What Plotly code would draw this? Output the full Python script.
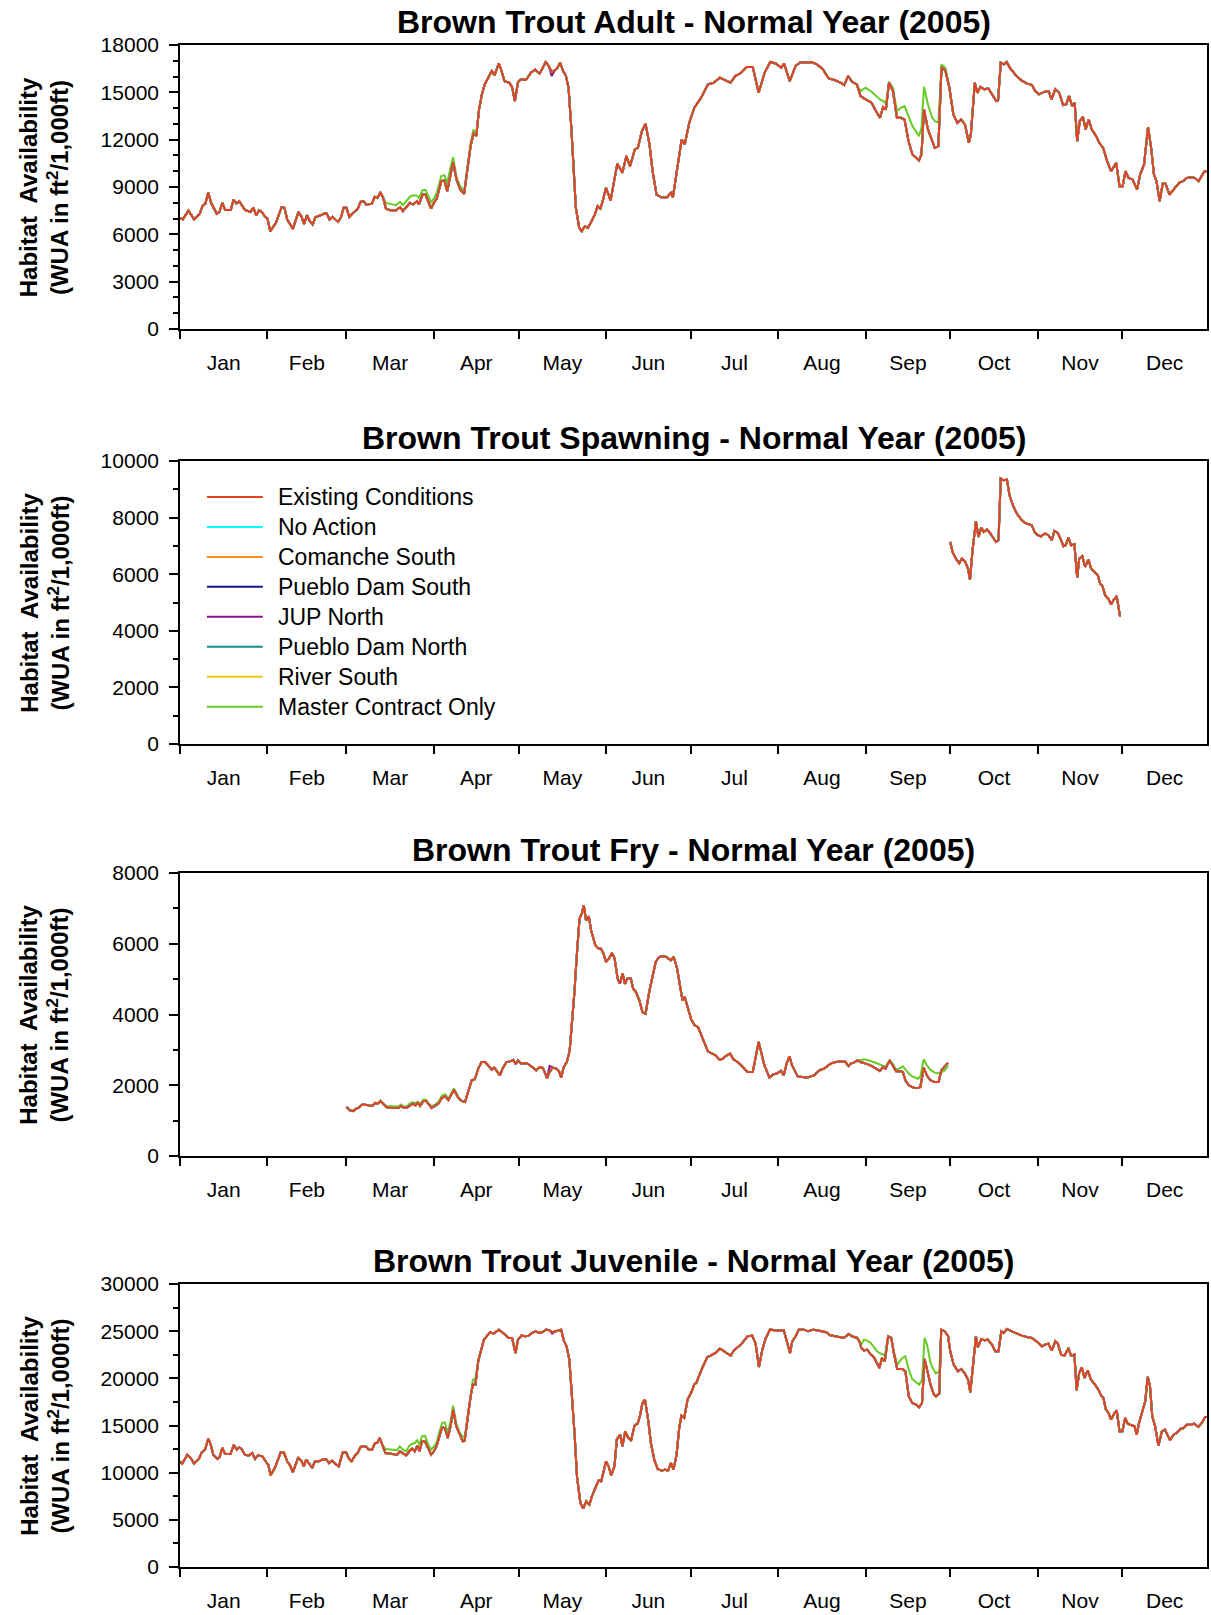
import pandas as pd
import plotly.graph_objects as go

YEAR_START = pd.Timestamp("2005-01-01")

SERIES = ["Existing Conditions", "No Action", "Comanche South", "Pueblo Dam South",
          "JUP North", "Pueblo Dam North", "River South", "Master Contract Only"]
COLORS = ["#E8411E", "#00FFFF", "#FF8C1E", "#14148C", "#8C148C", "#148C8C", "#E6C814", "#66CC22"]

TITLES = ["Brown Trout Adult - Normal Year (2005)",
          "Brown Trout Spawning - Normal Year (2005)",
          "Brown Trout Fry - Normal Year (2005)",
          "Brown Trout Juvenile - Normal Year (2005)"]
Y_MAX = [18000, 10000, 8000, 30000]
Y_DTICK = [3000, 2000, 2000, 5000]
Y_MINOR = [1000, 1000, 1000, 2500]

# ---------------- Adult (day of year offset, WUA) : Existing Conditions ----------------
adult_day = [0, 1, 3, 5, 7, 8, 9, 10, 11, 13, 14, 15, 16, 18, 19, 20, 21, 22, 23, 25, 26, 27, 28, 29, 30,
             31, 32, 34, 36, 37, 38, 40, 42, 43, 44, 45, 46, 47, 48, 49, 51, 52, 53, 54, 56, 57, 58,
             59, 60, 62, 63, 64, 65, 66, 68, 69, 70, 71, 72, 73, 74.5, 76.6, 78, 79, 81.5, 82.6, 84, 84.7,
             86, 87, 89, 90, 91, 92.6, 93.7, 94.7, 96, 96.8, 98, 99.3, 100.7, 102, 103, 104, 105, 106, 107,
             108, 109, 110.5, 111.5, 113, 113.8, 115, 116.7, 117.7, 118.7, 119.8, 120.8, 122.6, 124.4,
             125.8, 127.5, 129.6, 130.7, 131.7, 132.8, 133.8, 134.7, 135.8, 136.8, 137.7, 138.7, 139.5,
             140.3, 141.5, 142.4, 143.5, 144.5, 145.6, 147, 148, 149, 149.8, 151, 152.6, 154, 155,
             156.8, 158.2, 159.5, 161.2, 162.3, 163.7, 165, 166.4, 167.5, 168.9, 170.6, 172.6, 174, 174.7,
             176.1, 177.8, 178.9, 180.5, 182.3, 184.7, 187.1, 189.2, 191.3, 193.4, 195.1, 196.8, 198.9,
             200.9, 203, 205.1, 207.2, 209.2, 211.3, 213.1, 214.1, 216.1, 218.2, 219.6, 221.6, 223.7,
             225.8, 227.9, 229.9, 232, 234.1, 235.4, 236.8, 238.2, 239.9, 241.2, 243, 245.1, 246.8, 248.1,
             249.2, 250.2, 251.3, 252.7, 254.1, 255.5, 256.8, 258.2, 259.6, 261, 261.9, 262.8, 263.7,
             265.1, 266.5, 267.5, 268.8, 269.9, 271.3, 272.7, 274.1, 275.5, 276.8, 278.2, 279.6, 280.3,
             281.7, 282.6, 283.7, 285.1, 286.5, 287.9, 289.3, 289.95, 290.9, 292, 293, 294.1, 296.2,
             298.2, 300.3, 302, 303.1, 304.4, 306.5, 307.9, 308.9, 310.2, 311.6, 313, 314.1, 315.1,
             316.2, 317.1, 318, 318.9, 320, 321, 322.1, 323.1, 324.5, 325.8, 327.2, 328.6, 330, 331.8,
             333, 334.1, 335.1, 336.2, 337.6, 339.2, 340.3, 341.7, 343.1, 344.2, 345.2, 346.1, 347.2,
             348.3, 349.3, 350.7, 352.1, 354.1, 355.5, 356.9, 358.3, 359.6, 361, 363.1, 364]
adult_val = [7050, 6950, 7500, 6950, 7300, 7800, 7950, 8650, 8000, 7300, 7420, 8000, 7550, 7550, 8200, 7950,
             8100, 7850, 7550, 7420, 7700, 7200, 7530, 7420, 7150,
             7000, 6200, 6730, 7720, 7680, 6940, 6350, 7420, 7150, 6660, 7210, 6830, 6620, 7090, 7150,
             7300, 7320, 6940, 7110, 6790, 7040, 7680,
             7680, 7110, 7470, 7610, 8060, 8100, 7890, 7930, 8380, 8310, 8670, 8310, 7630, 7530, 7530,
             7720, 7470, 8000, 7890, 8100, 7890,
             8520, 8520, 7630, 8000, 8270, 9370, 9410, 8730, 10000, 10575, 9480, 8840, 8570, 10430, 11590,
             12370, 12230, 13920, 14870,
             15500, 15880, 16350, 16090, 16835, 16450, 15710, 15610, 15330, 14450, 15650, 15820, 15780,
             16240,
             16450, 16180, 16920, 16670, 16310, 16390, 16560, 16880, 16350, 16030, 15290, 12750, 9790,
             7680, 6410, 6200, 6510, 6410, 6730, 7250, 7780, 7630, 8100, 8950, 8140, 9370, 10480,
             9900, 10960, 10320, 11380, 11480, 12540, 13010, 11700, 10000, 8520, 8350, 8350, 8630, 8350,
             10000, 12010, 11700, 13070, 14020, 14660, 15500, 15610, 15930, 15760, 15610, 16030, 16240,
             16600, 16600, 14970, 16240, 16920, 16810, 16560, 16830, 15710, 16670, 16880, 16880, 16920,
             16770, 16450, 15880, 15780, 15610, 15460, 16030, 15670, 15500, 14760, 14550, 14340, 13770,
             13390,
             14060, 13920, 15610, 15080, 13390, 13390, 13280, 11910, 11060, 10850, 10680, 11060, 13920,
             12650, 11910, 11480, 11590, 16600, 16350, 15290, 13600, 13070, 13280, 12970, 11800, 12330,
             15610, 14970, 15350, 15190, 15250, 14870, 14450, 14490, 16880, 16770, 16920, 16560, 16090,
             15760, 15550, 15460, 15080, 14870, 15040, 15080, 14550, 15190, 14970, 14190, 14230, 14760,
             14130, 14340, 11910, 13180, 13450, 12650, 13280, 12650, 12290, 11800, 11480, 10640, 10000,
             10530,
             9050, 9050, 10000, 9580, 9480, 8840, 9790, 10430, 12800, 11480, 9790, 9370, 8100,
             9200, 9200, 8520, 8840, 9260, 9370, 9580, 9620, 9580, 9370, 10000, 10000]

# Master Contract Only where it separates from Existing Conditions (adult)
adult_mco_a_day = [73, 74.5, 76.6, 78, 79, 81.5, 82.6, 84, 84.7, 86, 87, 89, 90, 91, 92.6, 93.7, 94.7, 96,
                   96.8, 98, 99.3, 100.7, 102, 103, 104]
adult_mco_a_val = [7990, 7930, 7850, 8060, 7850, 8380, 8480, 8440, 8310, 8800, 8820, 8040, 8270, 8630, 9690,
                   9750, 9260, 10320, 10890, 9600, 9050, 8730, 10600, 11800, 12650]
adult_mco_b_day = [241.2, 243, 245.1, 246.8, 248.1, 249.2, 250.2, 251.3, 252.7, 254.1, 255.5, 256.8, 258.2,
                   259.6, 261, 261.9, 262.8, 263.7, 265.1, 266.5, 267.5, 268.8, 269.9, 271.3]
adult_mco_b_val = [15080, 15290, 15040, 14760, 14550, 14450, 14300, 15670, 15290, 13810, 14020, 14130, 13490,
                   12860, 12480, 12220, 12750, 15350, 14230, 13430, 13180, 13070, 16770, 16560]
adult_jup_day = [131.7]
adult_jup_val = [16030]

# ---------------- Spawning : Existing Conditions ----------------
spawn_day = [273, 273.8, 275, 276.2, 277.1, 278.3, 279.3, 280, 280.9, 282.1, 283, 284, 284.9, 286, 287.2,
             288.3, 289.2, 290.1, 290.9, 291.9, 293.1, 294, 295.2, 296.6, 298.1, 299.5, 300.7, 301.9,
             302.9, 304, 305.2, 306.6, 307.8, 309, 309.9, 311.1, 312.3, 313.1, 313.9, 314.9, 315.8, 317,
             318, 318.7, 319.8, 320.8, 322, 322.9, 324.1, 325.3, 326.1, 326.9, 327.9, 329, 330, 330.8,
             332, 333.2]
spawn_val = [7140, 6790, 6550, 6380, 6550, 6440, 6200, 5810, 6850, 7870, 7320, 7650, 7490, 7580, 7440,
             7260, 7140, 7200, 9380, 9320, 9340, 8790, 8440, 8140, 7940, 7810, 7760, 7730,
             7490, 7380, 7340, 7440, 7380, 7200, 7530, 7460, 7200, 6990, 7020, 7290, 7020, 7060,
             5880, 6550, 6640, 6260, 6520, 6200, 6080, 5960, 5670, 5590, 5260, 5140, 4930, 5080,
             5220, 4490]

# ---------------- Fry : Existing Conditions ----------------
fry_day = [59, 60.2, 61.4, 62.5, 63.4, 64.5, 65.7, 66.9, 68.1, 69.2, 70.1, 71, 71.9, 73.1, 74.5, 76.3,
           77.5, 78.3, 79.2, 80.4, 81.4, 82.5, 83.5, 84.2, 85.1, 86.3, 87.2, 88.2, 89.2, 90.4, 91.6, 92.8,
           94, 95.1, 97.1, 98.6, 99.8, 101, 102.2, 103.4, 104.5, 105.7, 106.9, 108.1, 109.2, 110.4,
           111.4, 112.2, 113.4, 114.3, 115.7, 117.1, 118.1, 119, 119.8, 121, 122.8, 124, 125.1, 126.3,
           127.5, 128.6, 130.1, 131, 132.2, 133.4, 134.3, 135.1, 136, 137.1, 138.1, 139, 139.8, 140.6,
           141.6, 142.4, 143.1, 143.9, 144.9, 145.7, 146.3, 147.2, 148.4, 149.2, 150.1, 151, 152, 153.1,
           154, 155.1, 155.9, 156.9, 157.7, 158.6, 159.8, 160.6, 161.6, 162.8, 163.9, 165, 166.3, 167.5,
           168.6, 169.8, 171, 172.4, 173.9, 175, 176.2, 177.1, 178.1, 178.9, 180.1, 181.2, 182.4, 183.6,
           184.8, 186, 187.1, 188.3, 189.8, 191.2, 192.4, 193.8, 195, 196.2, 197.7, 198.9, 200.1, 201.2,
           203, 203.9, 205.1, 206.1, 207.1, 208.1, 208.9, 210.1, 211.5, 213, 214, 215, 216, 216.9, 217.7,
           218.9, 220.6, 222.4, 223.6, 224.8, 225.9, 227.1, 228.3, 229.5, 230.6, 232.4, 234.2, 235.7,
           236.9, 237.7, 238.9, 240.1, 241.2, 242.4, 243.9, 245.4, 246.8, 248, 249.1, 250.1, 251.5,
           252.6, 253.8, 255, 256.2, 257.1, 258.3, 259.5, 260.6, 261.6, 262.4, 263.6, 264.7, 265.9,
           267.5, 268.9, 269.8, 271, 272.2]
fry_val = [1385, 1290, 1270, 1340, 1365, 1450, 1450, 1430, 1415, 1500, 1480, 1555, 1480, 1385, 1365, 1365,
           1357, 1415, 1365, 1365, 1415, 1480, 1430, 1510, 1415, 1555, 1555, 1450, 1357, 1415, 1480, 1640,
           1690, 1575, 1875, 1650, 1555, 1525, 1855, 2140, 2170, 2470, 2655, 2655, 2565, 2440,
           2495, 2420, 2280, 2470, 2655, 2675, 2720, 2590, 2705, 2610, 2630, 2565, 2495, 2420,
           2515, 2495, 2205, 2375, 2495, 2470, 2400, 2215, 2515, 2655, 2970, 3740, 4635, 5625,
           6710, 6850, 7085, 6660, 6775, 6380, 6210, 5955, 5860, 5860, 5720, 5485, 5580, 5740,
           5605, 5015, 4870, 5155, 4870, 5015, 5015, 4730, 4635, 4400, 4070, 4025, 4635, 5105,
           5485, 5625, 5655, 5625, 5530, 5625, 5295, 4870, 4400, 4495, 4165, 3855, 3695, 3645,
           3410, 3175, 2960, 2910, 2845, 2725, 2750, 2845, 2895, 2725, 2655, 2565, 2470, 2375,
           2375, 2750, 3225, 2895, 2565, 2375, 2215, 2300, 2330, 2405, 2280, 2610, 2820, 2565, 2420,
           2250, 2235, 2215, 2250, 2280, 2375, 2440, 2470, 2535, 2610, 2655, 2655, 2675,
           2545, 2610, 2640, 2705, 2655, 2630, 2590, 2535, 2470, 2405, 2515, 2470, 2705,
           2535, 2395, 2395, 2375, 2140, 2000, 1950, 1920, 1920, 1950, 2495, 2280, 2140,
           2090, 2090, 2420, 2535, 2630]

fry_mco_a_day = [73.1, 74.5, 76.3, 77.5, 78.3, 79.2, 80.4, 81.4, 82.5, 83.5, 84.2, 85.1, 86.3, 87.2, 88.2,
                 89.2, 90.4, 91.6, 92.8, 94, 95.1, 97.1, 98.6]
fry_mco_a_val = [1415, 1415, 1415, 1400, 1455, 1400, 1400, 1480, 1515, 1495, 1535, 1480, 1590, 1590, 1480,
                 1400, 1450, 1530, 1705, 1745, 1620, 1910, 1680]
fry_mco_b_day = [241.2, 242.4, 243.9, 245.4, 246.8, 248, 249.1, 250.1, 251.5, 252.6, 253.8, 255, 256.2,
                 257.1, 258.3, 259.5, 260.6, 261.6, 262.4, 263.6, 264.7, 265.9, 267.5, 268.9, 269.8,
                 271, 272.2]
fry_mco_b_val = [2705, 2735, 2705, 2675, 2630, 2590, 2560, 2520, 2705, 2610, 2440, 2470, 2535,
                 2440, 2330, 2250, 2215, 2185, 2250, 2735, 2565, 2440, 2355, 2330, 2355,
                 2420, 2545]
fry_jup_day = [131]
fry_jup_val = [2545]

# ---------------- Juvenile : Existing Conditions ----------------
juv_day = [0, 0.8, 2.6, 3.8, 5, 6.7, 7.7, 8.9, 10, 10.9, 11.8, 13.2, 14, 15, 15.9, 17.9, 19.1, 20.1, 20.9,
           21.8, 23, 24.4, 25.6, 26.6, 27.7, 29.2, 30.6, 31.3, 32.1, 33.6, 35.7, 36.8, 38, 39, 40, 41,
           41.9, 43.1, 43.9, 44.7, 45.7, 46.9, 47.8, 49.2, 50.4, 51.8, 52.8, 54, 55.1, 56.3, 57.7, 58.9,
           59.9, 60.8, 62, 63, 64, 65.8, 66.9, 68.1, 69.1, 69.9, 70.8, 71.7, 72.8, 74.6, 75.8, 77, 77.9,
           79, 80.2, 81.3, 82.3, 83.2, 84.1, 84.9, 85.8, 86.8, 88, 89, 90, 90.9, 92, 92.9, 93.9, 94.9,
           95.9, 96.8, 97.9, 99.2, 100.2, 100.9, 101.8, 103, 103.8, 104.7, 105.7, 106.7, 107.7, 108.9,
           110, 111.2, 113, 114.2, 115.6, 116.5, 117.7, 118.9, 119.8, 121, 122.4, 123.6, 124.8, 126,
           127.2, 128.3, 129.8, 131, 131.9, 133.1, 134.2, 135.1, 136, 137, 138, 139, 139.9, 140.7, 141.9,
           142.9, 144, 145.1, 146, 147.2, 148.4, 149.3, 149.9, 151, 151.9, 152.8, 154, 154.8, 156, 156.8,
           157.8, 158.9, 159.9, 161.1, 162.2, 163, 163.9, 164.8, 166, 166.9, 168.1, 169.3, 170.7, 171.9,
           173, 174, 174.9, 176, 176.9, 177.7, 178.7, 179.9,
           181.4, 182.2, 183, 184, 185.1, 186.9, 188.1, 189.8, 191.3, 192.6, 193.6, 195.2, 196.3, 198.1,
           199.3, 201.1, 202.8, 204, 205.2, 206.4, 207.5, 209.1, 210.5, 212.3, 214, 215.2, 216.2, 217,
           218.2, 219.3, 221.1, 222.6, 224.3, 225.8, 227.6, 229, 230.5, 232.3, 234.1, 235.3, 237, 238.2,
           240, 240.8, 241.5, 242.4, 243.6, 244.8, 245.9, 247.1, 247.9, 248.8, 249.8, 251, 252.1, 253,
           254.2, 256, 257.1, 258.3, 259.5, 260.9, 262, 263, 263.9, 264.8, 266, 267.1, 267.9, 269.1,
           269.8, 271, 272.2, 273, 274.2, 275.7, 276.9, 278.1, 279.3, 280.1, 280.9, 282.1, 282.8, 284,
           285.2, 286.3, 287.8, 288.9, 290.1, 291.1, 291.9, 293.1, 294.8, 296.6, 298.4, 300.1, 301.9,
           303.1, 304.3, 305.5, 306.6, 307.8, 309, 310.2, 311.1, 312.3, 313.5, 314.9, 315.8, 317, 317.8,
           318.7, 319.6, 320.6, 321.7, 322.9, 324.3, 325.5, 326.5, 327.3, 328.1, 329.1, 330, 331.2, 332,
           333, 334, 335, 335.9, 337.1, 338.3, 339.1, 339.9, 341.1, 342.1, 343, 343.8, 344.6, 345.6,
           346.8, 348, 349.1, 350.9, 352.1, 353.3, 354.5, 355.7, 356.8, 358, 359.5, 360.9, 362.2, 363.3,
           364.2]
juv_val = [11200, 10955, 11910, 11555, 10955, 11450, 12160, 12440, 13605, 12970, 11910, 11450, 11625, 12615,
           12015, 11980, 12970, 12440, 12690,
           12510, 11910, 11805, 12085, 11450, 11840, 11730, 11095, 10850, 9720, 10495, 12160, 12160, 11200,
           10780, 10035, 10955,
           11625, 11200, 10670, 11380, 10955, 10495, 11200, 11200, 11380, 11450, 11025, 11275, 10920, 10670,
           12160, 12160,
           11450, 11200, 11805, 12085, 12720, 12795, 12440, 12440, 13145, 13145, 13675, 12970, 12085, 12015,
           11980, 11910, 12265,
           12085, 11840, 12265, 12545, 12265, 12865, 12265, 13325, 13325, 12440, 11910, 12265, 12795, 13925,
           14805, 14735, 13675,
           14915, 16680, 14915, 14030, 13325, 13395, 15445, 18095, 19330, 19330, 21805, 23040, 24100, 24525,
           24880, 24740, 25160, 24880, 24455, 24280, 24280, 22690, 24100, 24525, 24455, 24525, 24810, 24985,
           24810, 24880, 25160, 25090, 24880, 24985, 25055, 25160, 24030, 23395, 21980, 18095, 13855, 9610,
           6785,
           6185, 6960, 6610, 7490, 8375, 9190, 9080, 9790, 11200, 10670, 9720, 10670, 13500, 14030, 12795,
           14385, 13675, 13430, 14985, 15195, 15975, 17390, 17740, 15445, 13145, 11380, 10390, 10215, 10320,
           10215, 11025, 10320, 11910, 14630, 16045, 15800, 17740,
           18625, 19330, 19510, 20285, 21100, 22265, 22405, 22690, 23150, 22935, 22690, 22405, 22970, 23395,
           23750, 24455, 24525, 23680, 21205, 23040, 24175, 25160, 25090, 25055, 25090, 23925, 22690, 23925,
           24455, 25160, 25160, 24985, 25160, 25090, 24985, 24880, 24560, 24455, 24350, 24280, 24705, 24455,
           24280, 23925, 23220, 22935, 23040, 22510, 22265, 21630, 21100, 22160, 21805, 24455, 24280, 22690,
           20990, 20990, 20745, 18095, 17390, 17210, 16930, 17390, 22050, 20920, 19330, 18375, 18095, 18375,
           25160, 24985, 24525, 22865, 21450, 20745, 20990, 20570, 19860, 18520, 20920, 24455, 23290, 24175,
           24030, 24100, 23570, 22865, 22865, 24985, 24810, 25230, 24985, 24740, 24525, 24385, 24280,
           24030, 23680, 23395, 23570, 23680, 22935, 23925, 23680, 22510, 22405, 23220, 22405, 22510, 18730,
           20570, 21170, 20040, 20850, 19860, 19330, 18800, 18165, 17915, 16750, 16325, 15620, 16325, 16610,
           14385, 14385, 15800, 15195, 15090, 14915, 14030, 15265, 16505, 17565, 20145, 19155, 15975, 14915,
           12865, 14385, 14560, 13430, 14030, 14205, 14630, 14735, 15090, 15090, 15195, 14845, 15265, 15905,
           15905]

juv_mco_a_day = [72.8, 74.6, 75.8, 77, 77.9, 79, 80.2, 81.3, 82.3, 83.2, 84.1, 84.9, 85.8, 86.8, 88, 89, 90,
                 90.9, 92, 92.9, 93.9, 94.9, 95.9, 96.8, 97.9, 99.2, 100.2, 100.9, 101.8, 103, 103.8, 104.7]
juv_mco_a_val = [12510, 12440, 12440, 12370, 12795, 12440, 12265, 12865, 13075, 13145, 13430, 12970, 13855,
                 13925, 12970, 12440, 12795, 13145, 14385, 15265, 15335, 14205, 15445, 17105, 15265, 14205,
                 13855, 13700, 15700, 18500, 19860, 19930]
juv_mco_b_day = [241.5, 242.4, 243.6, 244.8, 245.9, 247.1, 247.9, 248.8, 249.8, 251, 252.1, 253, 254.2, 256,
                 257.1, 258.3, 259.5, 260.9, 262, 263, 263.9, 264.8, 266, 267.1, 267.9, 269.1, 269.8]
juv_mco_b_val = [23570, 24100, 24000, 23750, 23325, 22865, 22690, 22510, 22400, 24455, 24280, 22865, 21450,
                 22160, 22335, 20920, 19930, 19580, 19330, 19860, 24280, 23570, 21630, 20920, 20500, 20745,
                 25160]
juv_jup_day = [131.9]
juv_jup_val = [24740]


def with_overrides(base_day, base_val, segments):
    """Replace the base readings inside each read segment by that segment's readings."""
    pts = list(zip(base_day, base_val))
    for seg_day, seg_val in segments:
        lo, hi = min(seg_day), max(seg_day)
        pts = [p for p in pts if p[0] < lo or p[0] > hi] + list(zip(seg_day, seg_val))
    pts.sort()
    return [p[0] for p in pts], [p[1] for p in pts]


def to_dates(days):
    return YEAR_START + pd.to_timedelta(pd.Series(days, dtype=float), unit="D")


panels = [
    (adult_day, adult_val, [(adult_mco_a_day, adult_mco_a_val), (adult_mco_b_day, adult_mco_b_val)],
     [(adult_jup_day, adult_jup_val)]),
    (spawn_day, spawn_val, [], []),
    (fry_day, fry_val, [(fry_mco_a_day, fry_mco_a_val), (fry_mco_b_day, fry_mco_b_val)],
     [(fry_jup_day, fry_jup_val)]),
    (juv_day, juv_val, [(juv_mco_a_day, juv_mco_a_val), (juv_mco_b_day, juv_mco_b_val)],
     [(juv_jup_day, juv_jup_val)]),
]

# ---------------- layout geometry ----------------
W, H = 1211, 1615
ML, MR, MT, MB = 180, 2, 45, 48
PH = H - MT - MB
PW = W - ML - MR
panel_px = [(45, 329), (461, 744), (873, 1156), (1284, 1568)]
domains = [[1 - (b - MT) / PH, 1 - (t - MT) / PH] for t, b in panel_px]
domains = [[max(0, d[0]), min(1, d[1])] for d in domains]


def px_x(px):
    return (px - ML) / PW


def px_y(py):
    return 1 - (py - MT) / PH


FONT = "Liberation Sans, Arial, Helvetica, sans-serif"
LINE_W = 2.0

fig = go.Figure()

for i, (bday, bval, mco_segs, jup_segs) in enumerate(panels):
    ax = "" if i == 0 else str(i + 1)
    mco_day, mco_val = with_overrides(bday, bval, mco_segs)
    jup_day, jup_val = with_overrides(bday, bval, jup_segs)
    per_series = {
        "Existing Conditions": (bday, bval),
        "No Action": (bday, bval),
        "Comanche South": (bday, bval),
        "Pueblo Dam South": (bday, bval),
        "JUP North": (jup_day, jup_val),
        "Pueblo Dam North": (bday, bval),
        "River South": (bday, bval),
        "Master Contract Only": (mco_day, mco_val),
    }
    # draw from last to first so Existing Conditions lies on top
    for k in range(len(SERIES) - 1, -1, -1):
        name = SERIES[k]
        d, v = per_series[name]
        fig.add_trace(go.Scatter(
            x=to_dates(d), y=v, mode="lines", name=name, legendgroup=name,
            line=dict(color=COLORS[k], width=LINE_W),
            xaxis="x" + ax, yaxis="y" + ax, showlegend=False,
        ))

axis_common = dict(showline=True, linecolor="black", linewidth=1.6, mirror=True,
                   showgrid=False, zeroline=False, ticks="outside", tickcolor="black",
                   tickwidth=1.5, tickfont=dict(family=FONT, size=21, color="black"))

annotations = []
shapes = []

for i in range(4):
    ax = "" if i == 0 else str(i + 1)
    fig.layout["xaxis" + ax] = dict(
        axis_common, domain=[0, 1], anchor="y" + ax,
        type="date", range=["2005-01-01", "2005-12-31"],
        tick0="2005-01-01", dtick="M1", tickformat="%b", ticklabelmode="period",
        ticklen=8, ticklabelstandoff=6,
    )
    fig.layout["yaxis" + ax] = dict(
        axis_common, domain=domains[i], anchor="x" + ax,
        range=[0, Y_MAX[i]], dtick=Y_DTICK[i], tick0=0, tickformat="d",
        ticklen=9, ticklabelstandoff=6,
        minor=dict(dtick=Y_MINOR[i], ticks="outside", ticklen=5, tickwidth=1.5, tickcolor="black"),
    )
    annotations.append(dict(
        text="<b>" + TITLES[i] + "</b>", xref="paper", yref="paper",
        x=0.5, y=domains[i][1], xanchor="center", yanchor="middle", yshift=23,
        showarrow=False, font=dict(family=FONT, size=32, color="black"),
    ))
    annotations.append(dict(
        text="<b>Habitat  Availability</b><br><b>(WUA in ft<sup>2</sup>/1,000ft)</b>",
        xref="paper", yref="paper", x=px_x(44), y=(domains[i][0] + domains[i][1]) / 2,
        xanchor="center", yanchor="middle", textangle=-90, showarrow=False,
        font=dict(family=FONT, size=24, color="black"),
    ))

# key drawn inside the spawning panel
LEG_Y0, LEG_STEP = 497, 29.95
for k, name in enumerate(SERIES):
    yy = px_y(LEG_Y0 + k * LEG_STEP)
    shapes.append(dict(type="line", xref="paper", yref="paper",
                       x0=px_x(207), x1=px_x(263), y0=yy, y1=yy,
                       line=dict(color=COLORS[k], width=LINE_W)))
    annotations.append(dict(text=name, xref="paper", yref="paper", x=px_x(276), y=yy,
                            xanchor="left", yanchor="middle", showarrow=False,
                            font=dict(family=FONT, size=23, color="black")))

fig.update_layout(
    width=W, height=H,
    margin=dict(l=ML, r=MR, t=MT, b=MB),
    paper_bgcolor="white", plot_bgcolor="white",
    font=dict(family=FONT, color="black"),
    showlegend=False,
    annotations=annotations,
    shapes=shapes,
)

fig.write_html("out.html", config={"displayModeBar": False},
               post_script="document.body.style.margin='0';")
